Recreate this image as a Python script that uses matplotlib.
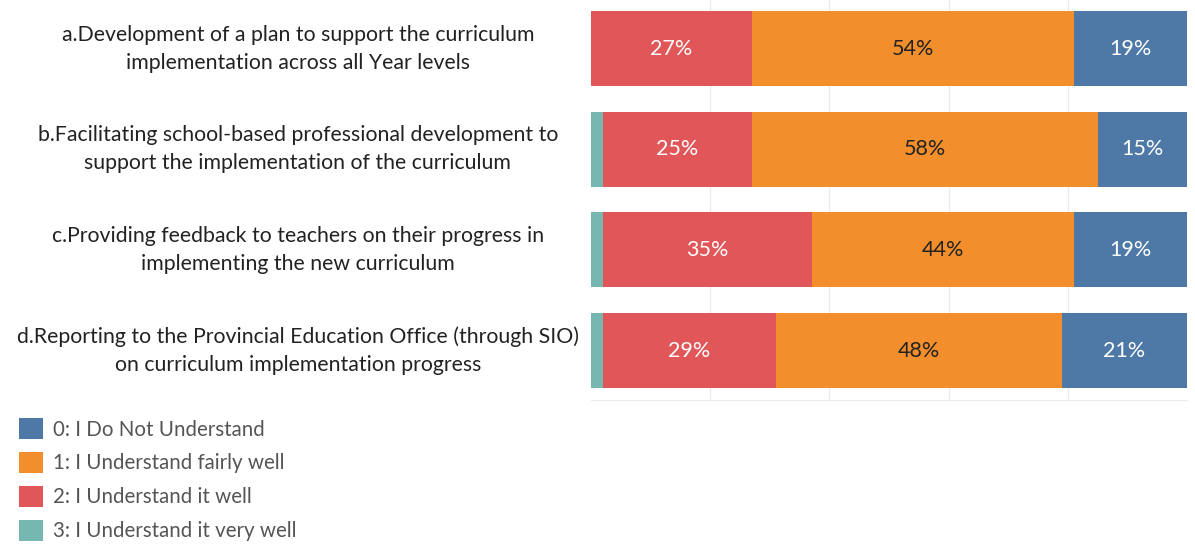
import matplotlib.pyplot as plt
from matplotlib.patches import Patch

plt.rcParams['font.family'] = ['Lato', 'DejaVu Sans']

questions = [
    'a.Development of a plan to support the curriculum\nimplementation across all Year levels',
    'b.Facilitating school-based professional development to\nsupport the implementation of the curriculum',
    'c.Providing feedback to teachers on their progress in\nimplementing the new curriculum',
    'd.Reporting to the Provincial Education Office (through SIO)\non curriculum implementation progress',
]

# stacked left to right: 3, 2, 1, 0
very_well = [0, 2, 2, 2]
well = [27, 25, 35, 29]
fairly_well = [54, 58, 44, 48]
not_understand = [19, 15, 19, 21]

legend_labels = ['0: I Do Not Understand', '1: I Understand fairly well',
                 '2: I Understand it well', '3: I Understand it very well']
colors = {'0': '#4e79a7', '1': '#f28e2b', '2': '#e15759', '3': '#76b7b2'}

fig = plt.figure(figsize=(11.95, 5.44), dpi=100)
ax = fig.add_axes([0.4946, 0.2647, 0.4987, 0.7353])

series = [(very_well, colors['3'], 'white'),
          (well, colors['2'], 'white'),
          (fairly_well, colors['1'], '#222222'),
          (not_understand, colors['0'], 'white')]

ypos = list(range(len(questions)))
left = [0] * len(questions)
for vals, col, tcol in series:
    ax.barh(ypos, vals, left=left, height=0.745, color=col, zorder=2)
    for y, v, l in zip(ypos, vals, left):
        if v >= 5:
            ax.text(l + v / 2, y, f'{v}%', ha='center', va='center',
                    color=tcol, fontsize=15.5, zorder=3)
    left = [l + v for l, v in zip(left, vals)]

ax.set_xlim(0, 100)
ax.set_ylim(3.49, -0.482)
ax.set_xticks([20, 40, 60, 80])
ax.grid(axis='x', color='#ebebeb', linewidth=1, zorder=0)
ax.tick_params(length=0, labelbottom=False, labelleft=False)
for s in ['top', 'right', 'left']:
    ax.spines[s].set_visible(False)
ax.spines['bottom'].set_color('#ebebeb')

for y, q in zip(ypos, questions):
    ax.text(-49.2, y, q, ha='center', va='center', fontsize=15.3,
            color='#222222', linespacing=1.5, transform=ax.transData)

handles = [Patch(facecolor=colors[k]) for k in ['0', '1', '2', '3']]
fig.legend(handles, legend_labels, loc='upper left', bbox_to_anchor=(0.009, 0.246),
           frameon=False, fontsize=14.8, labelcolor='#555555',
           handlelength=1.15, handleheight=1.15, handletextpad=0.5,
           labelspacing=0.62, borderaxespad=0)

plt.savefig('out.png', dpi=100)
